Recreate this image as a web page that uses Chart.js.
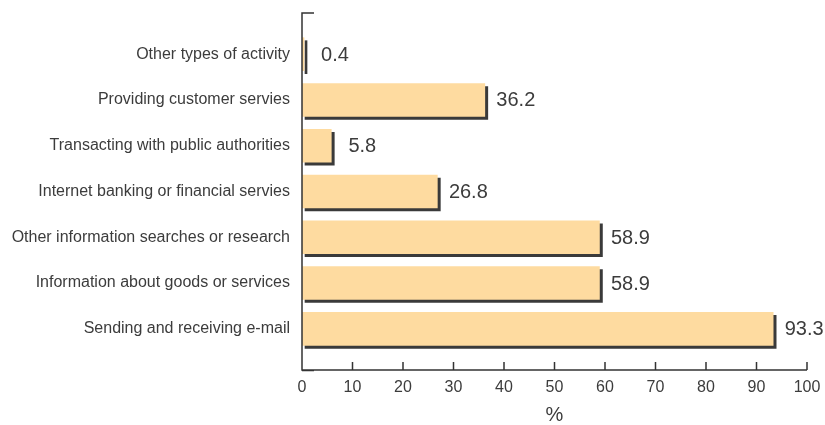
<!DOCTYPE html>
<html>
<head>
<meta charset="utf-8">
<script src="https://cdn.jsdelivr.net/npm/chart.js@4.4.1/dist/chart.umd.min.js"></script>
<style>
	html, body { margin: 0; padding: 0; background: #fff; }
	#wrap { width: 825px; height: 425px; }
</style>
</head>
<body>
<div id="wrap"><canvas id="myChart"></canvas></div>
<script>
const activities = [
	"Other types of activity",
	"Providing customer servies",
	"Transacting with public authorities",
	"Internet banking or financial servies",
	"Other information searches or research",
	"Information about goods or services",
	"Sending and receiving e-mail"
];
const shares = [0.4, 36.2, 5.8, 26.8, 58.9, 58.9, 93.3];
const pctTicks = [0, 10, 20, 30, 40, 50, 60, 70, 80, 90, 100];

const textColor = "#3c3c3c";
const barColor = "#fedba0";
const lineColor = "#333333";
const fontFamily = "'Liberation Sans', Arial, sans-serif";

// dark drop shadow under every bar (right and bottom edge)
const barShadow = {
	id: "barShadow",
	beforeDatasetsDraw(chart) {
		const ctx = chart.ctx;
		ctx.save();
		ctx.shadowColor = "#3a3a3a";
		ctx.shadowOffsetX = 3;
		ctx.shadowOffsetY = 3;
		ctx.shadowBlur = 0;
	},
	afterDatasetsDraw(chart) {
		chart.ctx.restore();
	}
};

// axis lines with inward tick marks
const axisLines = {
	id: "axisLines",
	afterDatasetsDraw(chart) {
		const { ctx, chartArea: a, scales: { x } } = chart;
		ctx.save();
		ctx.strokeStyle = lineColor;
		ctx.lineWidth = 1.5;
		ctx.beginPath();
		ctx.moveTo(a.left + 12, a.top);
		ctx.lineTo(a.left, a.top);
		ctx.lineTo(a.left, a.bottom);
		ctx.lineTo(x.getPixelForValue(pctTicks[pctTicks.length - 1]), a.bottom);
		ctx.moveTo(a.left, a.bottom + 0.5);
		ctx.lineTo(a.left + 12, a.bottom + 0.5);
		pctTicks.forEach((v) => {
			const px = x.getPixelForValue(v);
			ctx.moveTo(px, a.bottom);
			ctx.lineTo(px, a.bottom - 8);
		});
		ctx.stroke();
		ctx.restore();
	}
};

// value printed to the right of each bar
const valueLabels = {
	id: "valueLabels",
	afterDatasetsDraw(chart) {
		const ctx = chart.ctx;
		const meta = chart.getDatasetMeta(0);
		ctx.save();
		ctx.fillStyle = textColor;
		ctx.font = "20px " + fontFamily;
		ctx.textAlign = "center";
		ctx.textBaseline = "middle";
		meta.data.forEach((bar, i) => {
			ctx.fillText(shares[i].toFixed(1), bar.x + 31, bar.y + 1);
		});
		ctx.restore();
	}
};

function noMargins(s) {
	s.paddingLeft = 0;
	s.paddingRight = 0;
	s.paddingTop = 0;
	s.paddingBottom = 0;
}

const ctx = document.getElementById("myChart");

let grafico = new Chart(ctx, {
	type: "bar",
	data: {
		datasets: [
			{
				data: shares.map((v, i) => ({ x: v, y: i })),
				backgroundColor: barColor,
				borderWidth: 0,
				barThickness: 33,
			},
		],
	},
	options: {
		indexAxis: "y",
		responsive: true,
		maintainAspectRatio: false,
		animation: false,
		layout: { padding: { top: 13, right: 18, left: 0, bottom: 0 } },
		plugins: {
			legend: { display: false },
			tooltip: { enabled: false },
		},
		scales: {
			x: {
				type: "linear",
				min: 0,
				max: 100,
				offset: false,
				grid: { display: false, drawTicks: false },
				border: { display: false },
				afterBuildTicks: (s) => { s.ticks = pctTicks.map((v) => ({ value: v })); },
				afterFit: (s) => { s.height = 55; noMargins(s); },
				ticks: {
					padding: 8,
					color: textColor,
					font: { family: fontFamily, size: 16 },
				},
				title: {
					display: true,
					text: "%",
					color: textColor,
					padding: 0,
					font: { family: fontFamily, size: 20, lineHeight: 1 },
				},
			},
			y: {
				type: "linear",
				reverse: true,
				min: -0.9,
				max: 6.9,
				offset: false,
				grid: { display: false, drawTicks: false },
				border: { display: false },
				afterBuildTicks: (s) => { s.ticks = activities.map((_, i) => ({ value: i })); },
				afterFit: (s) => { s.width = 302; noMargins(s); },
				ticks: {
					padding: 12,
					color: textColor,
					font: { family: fontFamily, size: 16 },
					callback: (v) => activities[v],
				},
			},
		},
	},
	plugins: [barShadow, axisLines, valueLabels],
});
</script>
</body>
</html>
